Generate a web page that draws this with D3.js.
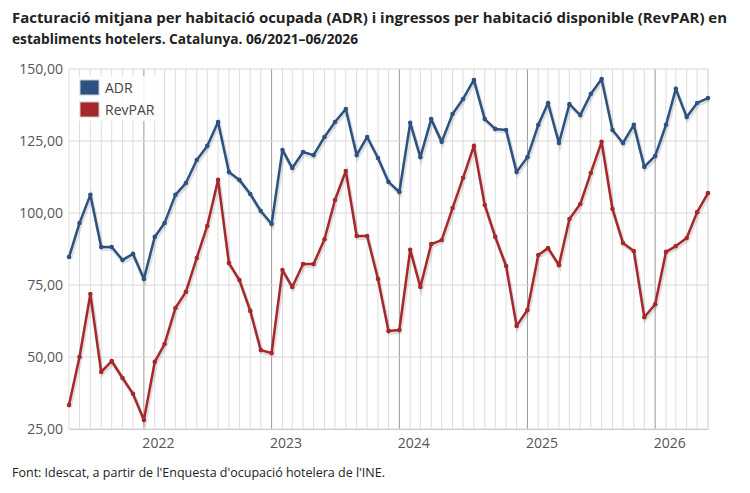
<!DOCTYPE html>
<html><head><meta charset="utf-8">
<script src="https://cdn.jsdelivr.net/npm/d3@7"></script>
<style>body{margin:0;background:#fff;font-family:"Open Sans",sans-serif}</style>
</head><body><svg id="c" width="750" height="493"></svg>
<script>
const startYear=2021,startMonth=5; // June 2021 (0-based month)
const adr=[84.7,96.5,106.3,88.2,88.2,83.7,85.8,
77.1,91.7,96.5,106.3,110.4,118.4,123.3,131.6,114.2,111.5,106.6,100.7,
96.2,121.9,115.6,121.2,120.1,126.4,131.6,136.1,120.1,126.4,119.1,110.8,
107.3,131.3,119.4,132.6,124.7,134.4,139.6,146.2,132.6,129.2,128.8,114.2,
119.4,130.6,138.2,124.3,137.8,134,141.3,146.5,128.8,124.3,130.6,116,
119.8,130.6,143.1,133.3,138.2,139.9];
const revpar=[33.3,50,71.9,44.8,48.6,42.7,37.2,
28.1,48.3,54.5,67,72.6,84.4,95.5,111.5,82.6,76.7,66,52.4,
51.4,80.2,74.3,82.3,82.3,90.9,104.5,114.6,92,92,77.1,59,
59.4,87.2,74.3,89.2,90.6,101.7,112.2,123.3,102.8,91.7,81.6,60.8,
66.3,85.4,87.8,81.9,97.9,103.1,113.9,124.7,101.4,89.6,86.8,63.8,
68.3,86.5,88.5,91.3,100.3,106.9];
const yTicks=[25,50,75,100,125,150];
const yearLabels=["2022","2023","2024","2025","2026"];
const seriesNames=["ADR","RevPAR"];
const colors=["#2c5281","#a6282b"];

const dates=adr.map((_,i)=>new Date(startYear,startMonth+i,1));
const svg=d3.select("#c");
const L=69,R=708,T=69,B=429;
const x=d3.scaleTime().domain([dates[0],dates[dates.length-1]]).range([L,R]);
const y=d3.scaleLinear().domain([25,150]).range([B,T]);
const fmt=v=>d3.format(".2f")(v).replace(".",",");

svg.append("text").attr("x",12).attr("y",23).attr("font-size",14).attr("font-weight","bold").attr("fill","#222")
 .attr("textLength",715).attr("lengthAdjust","spacingAndGlyphs")
 .text("Facturació mitjana per habitació ocupada (ADR) i ingressos per habitació disponible (RevPAR) en");
svg.append("text").attr("x",12).attr("y",44).attr("font-size",14).attr("font-weight","bold").attr("fill","#222")
 .attr("textLength",346).attr("lengthAdjust","spacingAndGlyphs")
 .text("establiments hotelers. Catalunya. 06/2021–06/2026");

svg.append("g").selectAll("line").data(dates).join("line")
 .attr("x1",d=>x(d)).attr("x2",d=>x(d)).attr("y1",T).attr("y2",B)
 .attr("stroke",d=>d.getMonth()===0?"#999":"#ddd").attr("stroke-width",1);
svg.append("line").attr("x1",R).attr("x2",R).attr("y1",T).attr("y2",B).attr("stroke","#ddd");
svg.append("g").selectAll("line").data(yTicks).join("line")
 .attr("x1",L).attr("x2",R).attr("y1",d=>y(d)).attr("y2",d=>y(d)).attr("stroke","#d8d8d8");
const ya=svg.append("g").attr("transform",`translate(${L},0)`)
 .call(d3.axisLeft(y).tickValues(yTicks).tickFormat(fmt).tickSize(0).tickPadding(6));
ya.select(".domain").remove();
ya.selectAll("text").attr("font-size",14).attr("fill","#555").attr("font-family","Open Sans");
const yearDates=yearLabels.map(s=>new Date(+s,0,1));
const xa=svg.append("g").attr("transform",`translate(0,${B})`)
 .call(d3.axisBottom(x).tickValues(yearDates).tickFormat(d3.timeFormat("%Y")).tickSize(0).tickPadding(9));
xa.select(".domain").attr("stroke","#ccc");
xa.selectAll("text").attr("font-size",14).attr("fill","#555").attr("font-family","Open Sans").attr("dx",14);

[adr,revpar].forEach((s,k)=>{
 const line=d3.line().x((d,i)=>x(dates[i])).y(d=>y(d));
 svg.append("path").datum(s).attr("d",line).attr("fill","none").attr("stroke","rgba(0,0,0,0.12)").attr("stroke-width",4).attr("transform","translate(1,2)");
 svg.append("path").datum(s).attr("d",line).attr("fill","none").attr("stroke",colors[k]).attr("stroke-width",2.5).attr("stroke-linejoin","round");
 svg.append("g").selectAll("circle").data(s).join("circle")
  .attr("cx",(d,i)=>x(dates[i])).attr("cy",d=>y(d)).attr("r",2.3).attr("fill",colors[k]);
});

const lg=svg.append("g");
lg.append("rect").attr("x",76).attr("y",76).attr("width",86).attr("height",45).attr("fill","rgba(255,255,255,0.85)");
seriesNames.forEach((n,k)=>{
 lg.append("rect").attr("x",80).attr("y",80+k*22).attr("width",19).attr("height",15).attr("fill",colors[k]).attr("stroke","#ccc");
 lg.append("text").attr("x",105).attr("y",93+k*22).attr("font-size",14).attr("fill","#444").text(n);
});

svg.append("text").attr("x",12).attr("y",477).attr("font-size",12.5).attr("fill","#222")
 .text("Font: Idescat, a partir de l'Enquesta d'ocupació hotelera de l'INE.");
</script></body></html>
